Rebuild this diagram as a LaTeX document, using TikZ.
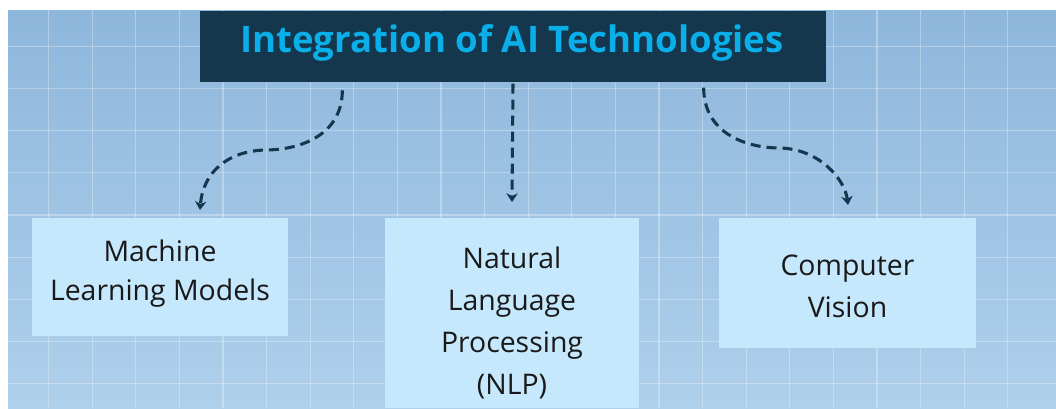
\documentclass[tikz,border=0pt]{standalone}
\usepackage{fontspec}
\setmainfont{Open Sans}[Ligatures=NoCommon]
\usetikzlibrary{arrows.meta}
\definecolor{titlebg}{HTML}{15374D}
\definecolor{titlefg}{HTML}{0AAFEA}
\definecolor{boxfill}{HTML}{C6E8FC}
\definecolor{bgtop}{HTML}{8EB7DC}
\definecolor{bgbot}{HTML}{AFD0EB}
\definecolor{arrowc}{HTML}{15374D}
\tikzset{
  titlebox/.style={fill=titlebg, inner sep=0pt, minimum width=469.5pt, minimum height=53.25pt},
  titletxt/.style={text=titlefg, inner sep=0pt, font=\fontsize{27.4}{34}\selectfont\bfseries},
  infobox/.style={fill=boxfill, inner sep=0pt},
  boxtext/.style={align=center, text=black!90, inner sep=0pt, font=\fontsize{21.3}{31.3}\selectfont},
  flow/.style={draw=arrowc, line width=2.3pt, dash pattern=on 7.5pt off 4.5pt,
    -{Stealth[length=6.5pt,width=8.5pt,inset=2pt]}},
  gridline/.style={draw=white, draw opacity=0.3, line width=0.8pt}
}
\begin{document}
\begin{tikzpicture}[x=0.75pt,y=-0.75pt]
\useasboundingbox (0,0) rectangle (1056,408);
\fill[white] (0,0) rectangle (1056,408);
\shade[top color=bgtop, bottom color=bgbot] (8,10) rectangle (1056,408);
\foreach \i in {0,...,23} {
  \draw[gridline] ({5+43.6*\i},10) -- ({5+43.6*\i},408);
}
\foreach \j in {1,...,9} {
  \draw[gridline] (8,{4+42.2*\j}) -- (1056,{4+42.2*\j});
}
\node[titlebox] (title) at (513,46.5) {};
\node[titletxt] (titletext) at (512,43) {Integration of AI Technologies};
\node[infobox, minimum width=192pt, minimum height=88.5pt] (ml) at (160,277) {};
\node[boxtext] (mltext) at (160,273.5) {Machine\\[-2pt]Learning Models};
\node[infobox, minimum width=190.5pt, minimum height=142.5pt] (nlp) at (512,313) {};
\node[boxtext] (nlptext) at (512,323) {Natural\\Language\\Processing\\(NLP)};
\node[infobox, minimum width=192.75pt, minimum height=97.5pt] (cv) at (847.5,283) {};
\node[boxtext] (cvtext) at (847.5,286) {Computer\\Vision};
\coordinate (mlin) at (200,210);
\coordinate (nlpin) at (512,202);
\coordinate (cvin) at (848,205);
\draw[flow] ([xshift=-128pt,yshift=-6pt]title.south) .. controls +(0,45) and (300,150) .. (265,150)
  .. controls (228,151) and (203,172) .. (mlin);
\draw[flow] ([yshift=-1pt]title.south) -- (nlpin);
\draw[flow] ([xshift=143pt,yshift=-4pt]title.south) .. controls +(0,45) and (745,148) .. (780,148)
  .. controls (820,149) and (845,180) .. (cvin);
\end{tikzpicture}
\end{document}
